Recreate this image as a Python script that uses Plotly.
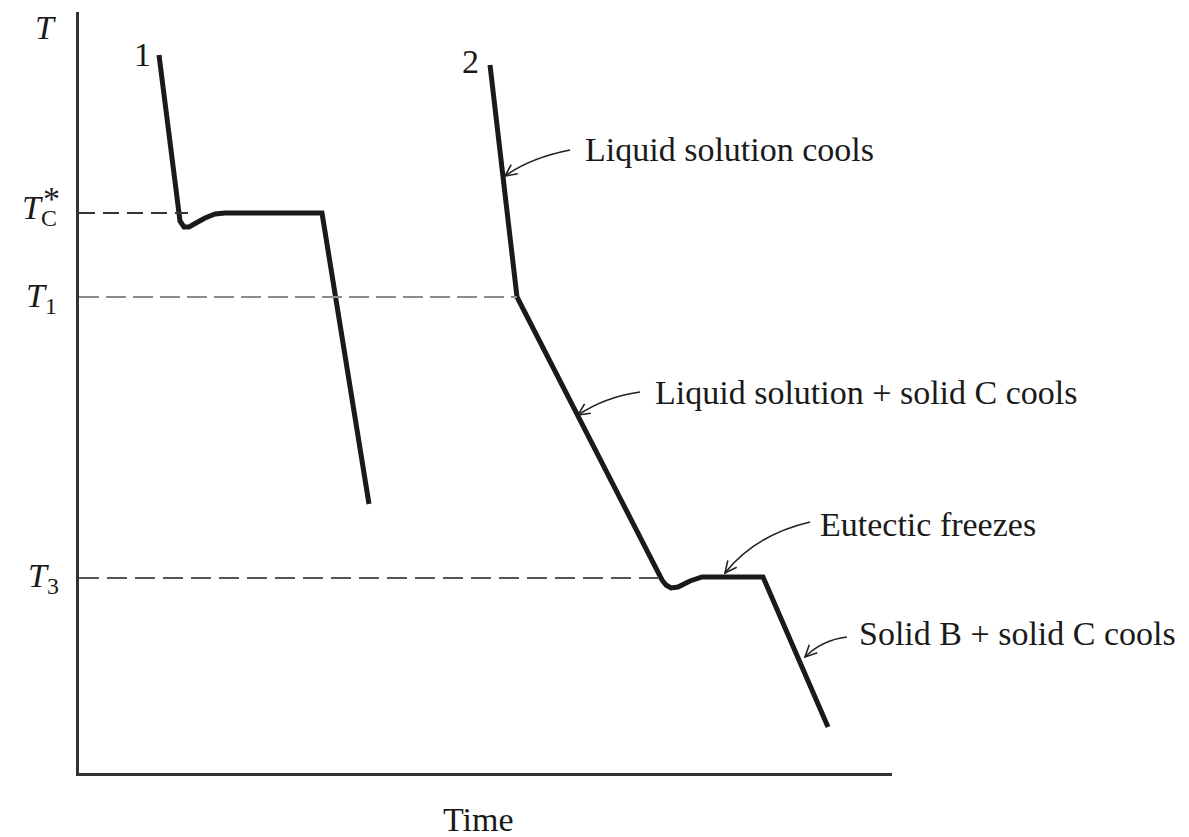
import math

import plotly.graph_objects as go

# cooling curve 1 (pure C): time, temperature
t1 = [80, 99, 101, 105, 110, 117, 126, 136, 146, 243, 290]
T1_curve = [718, 561, 552, 546, 546, 550, 555, 559, 560, 560, 269]

# cooling curve 2 (solution): time, temperature
t2 = [411, 438, 583, 587, 592, 599, 611, 623, 684, 749]
T2_curve = [708, 476, 193, 188, 185, 186, 192, 196, 196, 46]

# reference temperatures and where their dashed guides stop
ref_T = [560, 476, 195]
ref_end = [109, 438, 581]
ref_color = ["#333333", "#8c8c8c", "#555555"]
ref_dash = ["16px,8px", "20px,7px", "20px,8px"]

# process labels: text, anchor point
notes = [
    "Liquid solution cools",
    "Liquid solution + solid C cools",
    "Eutectic freezes",
    "Solid B + solid C cools",
]
note_x = [504, 574, 739, 778]
note_y = [623, 381, 249, 140]

# curved arrows: start, control, tip
arr_start = [(491, 623), (561, 381), (731, 251), (768, 136)]
arr_ctrl = [(451, 615), (526, 376), (676, 238), (743, 133)]
arr_tip = [(426, 597), (499, 358), (646, 200), (726, 116)]

X_MAX, Y_MAX = 813, 761
FONT = "Liberation Serif"
SIZE = 34

fig = go.Figure()
fig.add_trace(go.Scatter(x=t1, y=T1_curve, mode="lines",
                         line=dict(color="#1a1a1a", width=5)))
fig.add_trace(go.Scatter(x=t2, y=T2_curve, mode="lines",
                         line=dict(color="#1a1a1a", width=5)))

for y, xe, c, d in zip(ref_T, ref_end, ref_color, ref_dash):
    fig.add_trace(go.Scatter(x=[0, xe], y=[y, y], mode="lines",
                             line=dict(color=c, width=2, dash=d)))

shapes = []
for s, c, e in zip(arr_start, arr_ctrl, arr_tip):
    shapes.append(dict(type="path", xref="x", yref="y",
                       path=f"M {s[0]},{s[1]} Q {c[0]},{c[1]} {e[0]},{e[1]}",
                       line=dict(color="#222222", width=1.6)))
    dx, dy = e[0] - c[0], e[1] - c[1]
    n = math.hypot(dx, dy)
    dx, dy = dx / n, dy / n
    pts = []
    for a in (0.45, -0.45):
        rx = dx * math.cos(a) - dy * math.sin(a)
        ry = dx * math.sin(a) + dy * math.cos(a)
        pts.append((e[0] - 13 * rx, e[1] - 13 * ry))
    shapes.append(dict(type="path", xref="x", yref="y",
                       path=f"M {pts[0][0]},{pts[0][1]} L {e[0]},{e[1]} L {pts[1][0]},{pts[1][1]}",
                       line=dict(color="#222222", width=1.6)))

labels = [(t, x, y, "left") for t, x, y in zip(notes, note_x, note_y)]
labels += [
    ("Time", 399, -46, "center"),
    ("1", 63, 718, "center"),
    ("2", 391, 711, "center"),
    ("<i>T</i>", -34, 745, "center"),
    ("<i>T</i><sub>C</sub>", -20, 563, "right"),
    ("*", -28, 574, "center"),
    ("<i>T</i><sub>1</sub>", -20, 475, "right"),
    ("<i>T</i><sub>3</sub>", -18, 195, "right"),
]
ann = []
for txt, x, y, xa in labels:
    ann.append(dict(x=x / X_MAX, y=y / Y_MAX, xref="paper", yref="paper",
                    text=txt, xanchor=xa, yanchor="middle", showarrow=False,
                    font=dict(family=FONT, size=SIZE, color="#1a1a1a")))

# page body adds an 8px offset, so margins are trimmed by 8
fig.update_layout(
    width=1189, height=837,
    margin=dict(l=71, r=1189 - 71 - X_MAX, t=4, b=837 - 4 - Y_MAX),
    plot_bgcolor="white", paper_bgcolor="white",
    showlegend=False,
    shapes=shapes,
    annotations=ann,
)
fig.update_xaxes(range=[0, X_MAX], showgrid=False, zeroline=False, showticklabels=False,
                 ticks="", showline=True, linecolor="#333333", linewidth=3)
fig.update_yaxes(range=[0, Y_MAX], showgrid=False, zeroline=False, showticklabels=False,
                 ticks="", showline=True, linecolor="#333333", linewidth=3)

fig.write_html("out.html")
